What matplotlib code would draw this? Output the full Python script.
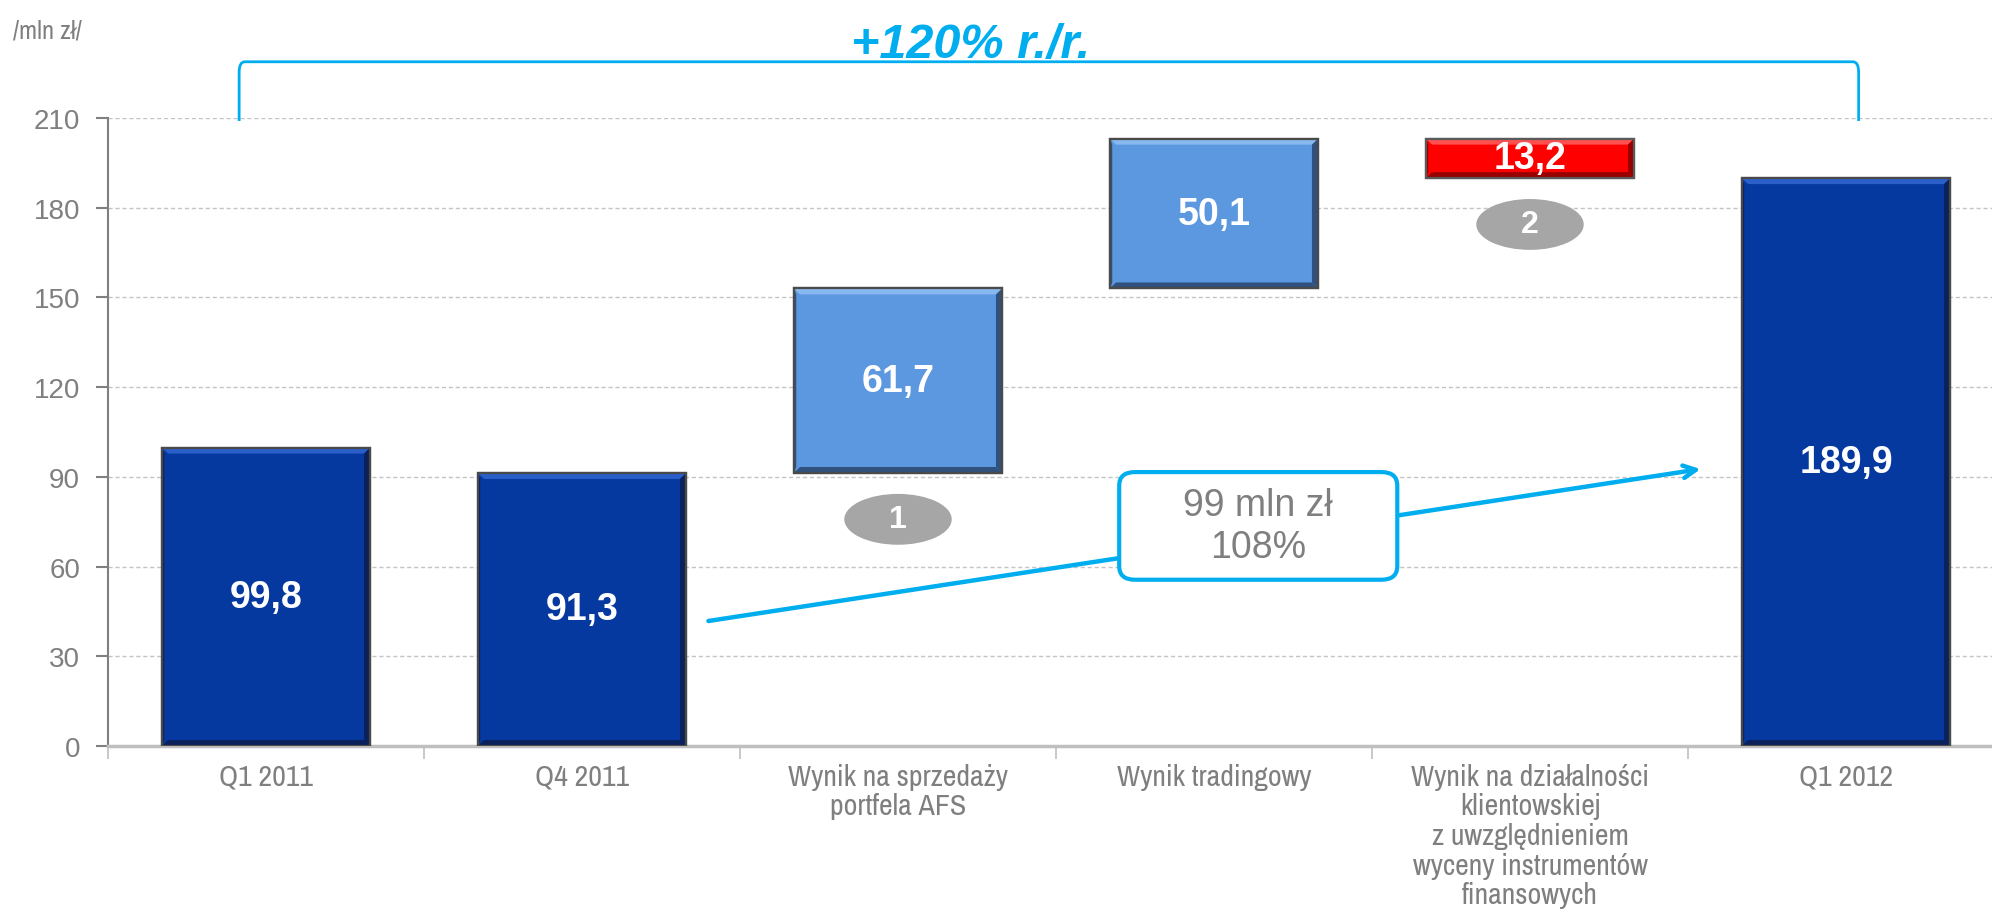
import matplotlib
matplotlib.use("Agg")
import matplotlib.pyplot as plt
from matplotlib.patches import FancyBboxPatch, Ellipse, PathPatch, Polygon
from matplotlib.path import Path
from matplotlib import font_manager
from matplotlib.font_manager import FontProperties

# ---------------- data ----------------
categories = ["Q1 2011", "Q4 2011", "Wynik na sprzedaży\nportfela AFS", "Wynik tradingowy",
              "Wynik na działalności\nklientowskiej\nz uwzględnieniem\nwyceny instrumentów\nfinansowych",
              "Q1 2012"]
values = [99.8, 91.3, 61.7, 50.1, -13.2, 189.9]
kinds = ["total", "total", "delta", "delta", "delta", "total"]
value_labels = ["99,8", "91,3", "61,7", "50,1", "13,2", "189,9"]
yticks = [0, 30, 60, 90, 120, 150, 180, 210]
markers = {2: "1", 4: "2"}           # category index -> note number
callout_text = "99 mln zł\n108%"
title_text = "+120% r./r."
unit_text = "/mln zł/"

# ---------------- fonts ----------------
SANS = "Liberation Sans"
plt.rcParams["font.family"] = [SANS, "DejaVu Sans"]
narrow_path = None
for f in font_manager.fontManager.ttflist:
    fn = f.fname.lower()
    if ("narrow" in fn or "narrow" in f.name.lower()) and f.weight in (400, "normal", "regular") \
            and f.style == "normal":
        narrow_path = f.fname
        break
if narrow_path:
    cat_fp = FontProperties(fname=narrow_path, size=21.5)
    cat_ls = 1.12
    unit_fp = FontProperties(fname=narrow_path, size=19)
else:
    cat_fp = FontProperties(family=SANS, size=18)
    cat_ls = 1.28
    unit_fp = FontProperties(family=SANS, size=16)

DPI = 100
fig = plt.figure(figsize=(19.92, 9.2), dpi=DPI)
ax = fig.add_axes([108 / 1992, 1 - 747 / 920, 1896 / 1992, 628 / 920])
ax.set_xlim(-0.5, 5.5)
ax.set_ylim(0, 210)

GRAY = "#7F7F7F"
CYAN = "#00AEEF"

pal = {
    "total": dict(base="#0639A0", light="#2F64CF", dark="#0B1F55", edge="#4A4A4A"),
    "delta": dict(base="#5B98E0", light="#8DBDF2", dark="#2C4A73", edge="#4A4A4A"),
    "neg":   dict(base="#FF0000", light="#FF5A5A", dark="#8E0000", edge="#5A5A5A"),
}

W = 0.66
BX = 0.02   # bevel width in x data units
BY = 2.0    # bevel height in y data units


def bevel_bar(x, bottom, height, c):
    lo, hi = min(bottom, bottom + height), max(bottom, bottom + height)
    ax.bar(x, hi - lo, W, lo, color=c["base"], edgecolor=c["edge"], linewidth=1.6, zorder=3)
    l, r = x - W / 2, x + W / 2
    by = min(BY, (hi - lo) / 4)
    polys = [
        ([(l, hi), (r, hi), (r - BX, hi - by), (l + BX, hi - by)], c["light"]),
        ([(r, hi), (r, lo), (r - BX, lo + by), (r - BX, hi - by)], c["dark"]),
        ([(l, lo), (r, lo), (r - BX, lo + by), (l + BX, lo + by)], c["dark"]),
        ([(l, hi), (l, lo), (l + BX * 0.4, lo + by), (l + BX * 0.4, hi - by)], c["dark"]),
    ]
    for pts, col in polys:
        ax.add_patch(Polygon(pts, closed=True, facecolor=col, edgecolor="none", zorder=3.5, alpha=0.9))
    ax.bar(x, hi - lo, W, lo, color="none", edgecolor=c["edge"], linewidth=1.6, zorder=3.6)


running = 0.0
for i, (v, k, lab) in enumerate(zip(values, kinds, value_labels)):
    if k == "total":
        bottom, height = 0.0, v
        running = v
        c = pal["total"]
    else:
        bottom, height = running, v
        running += v
        c = pal["delta"] if v >= 0 else pal["neg"]
    bevel_bar(i, bottom, height, c)
    ax.text(i, bottom + height / 2, lab, ha="center", va="center", color="white",
            fontsize=27, fontweight="bold", zorder=5)
    if i in markers:
        lo = min(bottom, bottom + height)
        ax.add_patch(Ellipse((i, lo - 15.5), 0.34, 17, facecolor="#A6A6A6", edgecolor="none", zorder=4))
        ax.text(i, lo - 15.5, markers[i], ha="center", va="center", color="white",
                fontsize=23, fontweight="bold", zorder=5)

# ---------------- axes styling ----------------
ax.set_yticks(yticks)
ax.set_yticklabels([str(t) for t in yticks])
ax.tick_params(axis="y", direction="out", length=9, width=1.5, color="#808080",
               labelsize=20, labelcolor=GRAY, pad=11)
ax.set_xticks(range(len(categories)))
ax.set_xticklabels(categories, fontproperties=cat_fp, color=GRAY, linespacing=cat_ls)
ax.tick_params(axis="x", which="major", length=0, pad=12)
ax.set_xticks([i - 0.5 for i in range(len(categories) + 1)], minor=True)
ax.tick_params(axis="x", which="minor", direction="out", length=9, width=1.2, color="#BFBFBF")
for s in ["top", "right"]:
    ax.spines[s].set_visible(False)
ax.spines["left"].set_color("#808080")
ax.spines["left"].set_linewidth(1.5)
ax.spines["bottom"].set_color("#BFBFBF")
ax.spines["bottom"].set_linewidth(2.5)
ax.yaxis.grid(True, linestyle=(0, (3, 2)), color="#C4C4C4", linewidth=1)
ax.set_axisbelow(True)
ax.get_ygridlines()[0].set_visible(False)

# ---------------- arrow + callout ----------------
ax.annotate("", xy=(4.54, 92.6), xytext=(1.40, 41.8),
            arrowprops=dict(arrowstyle="->,head_length=0.9,head_width=0.45", color=CYAN, lw=3.2,
                            shrinkA=0, shrinkB=0), zorder=6)
bx_c, by_c, bw, bh = 3.14, 73.6, 0.88, 36.0
box = FancyBboxPatch((bx_c - bw / 2, by_c - bh / 2), bw, bh,
                     boxstyle="round,pad=0,rounding_size=0.05", mutation_aspect=1 / 0.0110,
                     facecolor="white", edgecolor=CYAN, linewidth=3, zorder=7)
ax.add_patch(box)
ax.text(bx_c, by_c, callout_text, ha="center", va="center", color=GRAY, fontsize=27,
        linespacing=1.2, zorder=8)

# ---------------- bracket + title ----------------
xl, xr, yb, yt = -0.085, 5.04, 209.0, 228.8
rx, ry = 0.018, 3.5
verts = [(xl, yb), (xl, yt - ry), (xl, yt), (xl + rx, yt), (xr - rx, yt), (xr, yt), (xr, yt - ry), (xr, yb)]
codes = [Path.MOVETO, Path.LINETO, Path.CURVE3, Path.CURVE3, Path.LINETO, Path.CURVE3, Path.CURVE3, Path.LINETO]
ax.add_patch(PathPatch(Path(verts, codes), facecolor="none", edgecolor=CYAN, lw=2, clip_on=False, zorder=6))
ax.text(2.23, 230.5, title_text, ha="center", va="baseline", color=CYAN, fontsize=35,
        fontweight="bold", fontstyle="italic", clip_on=False)

fig.text(13 / 1992, 1 - 38 / 920, unit_text, ha="left", va="baseline", color=GRAY,
         fontproperties=unit_fp)

fig.savefig("out.png", dpi=DPI)
